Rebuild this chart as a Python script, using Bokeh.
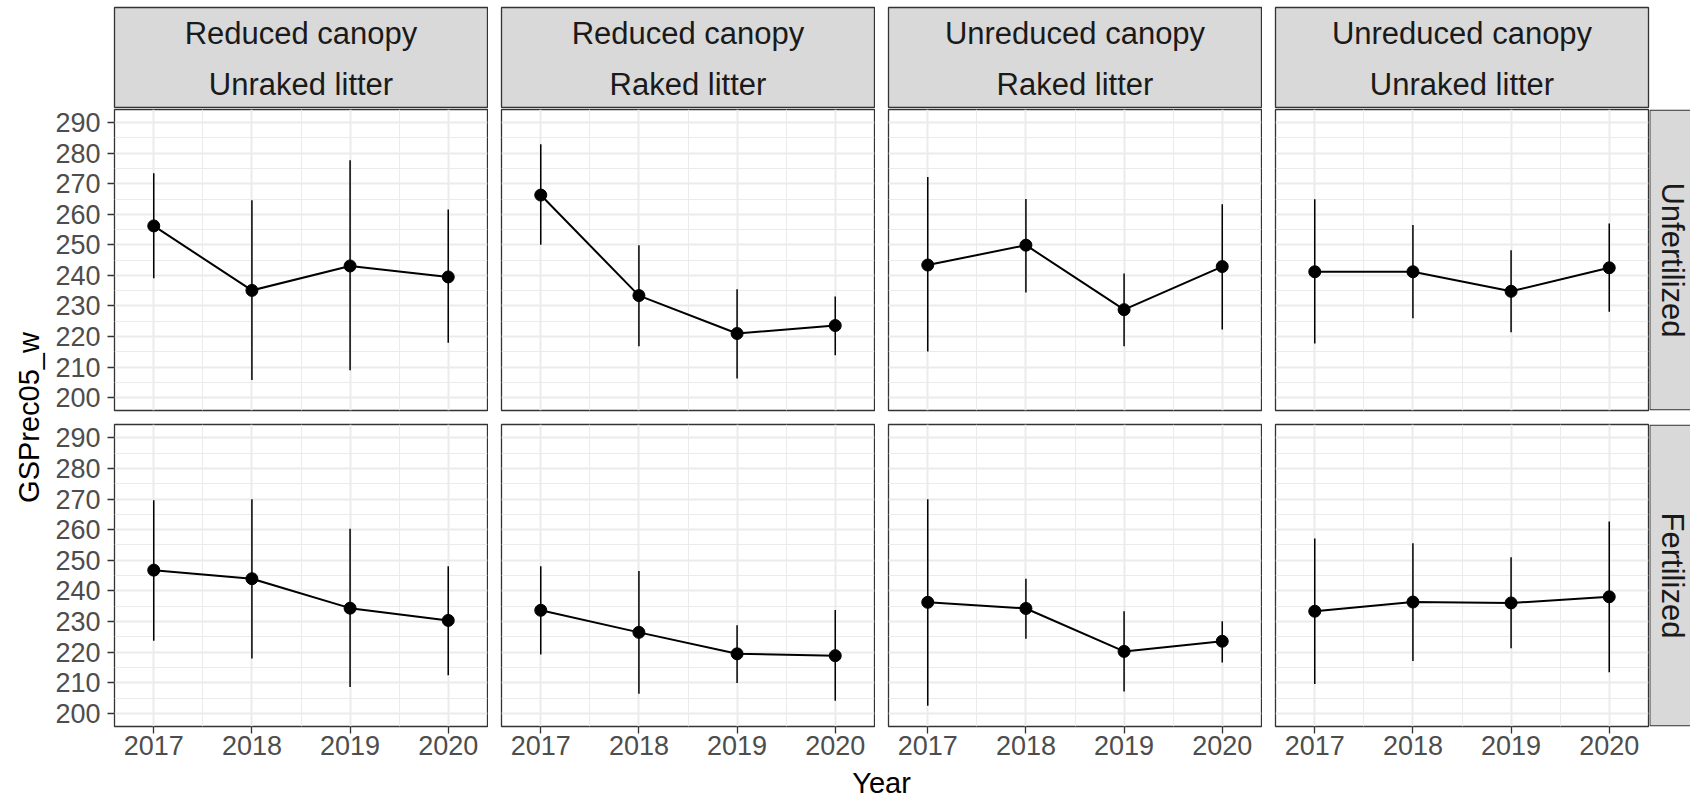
import math
from bokeh.plotting import figure
from bokeh.models import Range1d, FixedTicker, LinearAxis, Grid
from bokeh.layouts import row, column
from bokeh.embed import file_html
from bokeh.resources import INLINE
from bokeh.core.properties import value

# ---------------- data ----------------
years = [2017, 2018, 2019, 2020]
canopy_labels = ["Reduced canopy", "Reduced canopy", "Unreduced canopy", "Unreduced canopy"]
litter_labels = ["Unraked litter", "Raked litter", "Raked litter", "Unraked litter"]
fert_labels = ["Unfertilized", "Fertilized"]
y_ticks = [200, 210, 220, 230, 240, 250, 260, 270, 280, 290]
y_minor = [205, 215, 225, 235, 245, 255, 265, 275, 285]
x_minor = [2017.5, 2018.5, 2019.5]
x_title = "Year"
y_title = "GSPrec05_w"

# Unfertilized row (columns in strip order)
unfert_mean = [[256.2, 235.1, 243.1, 239.5],
               [266.3, 233.4, 221.0, 223.6],
               [243.4, 249.9, 228.8, 242.9],
               [241.2, 241.2, 234.8, 242.5]]
unfert_lo = [[239.1, 205.8, 209.0, 218.0],
             [250.0, 216.8, 206.3, 213.9],
             [215.1, 234.4, 216.8, 222.3],
             [217.7, 226.0, 221.4, 228.1]]
unfert_hi = [[273.4, 264.6, 277.7, 261.6],
             [282.9, 249.9, 235.5, 233.1],
             [272.2, 265.0, 240.6, 263.3],
             [264.9, 256.5, 248.2, 257.0]]

# Fertilized row
fert_mean = [[246.8, 244.0, 234.4, 230.4],
             [233.7, 226.5, 219.5, 218.9],
             [236.3, 234.3, 220.3, 223.6],
             [233.4, 236.4, 236.1, 238.1]]
fert_lo = [[223.8, 218.0, 208.7, 212.5],
           [219.3, 206.5, 210.0, 204.2],
           [202.6, 224.4, 207.2, 216.7],
           [209.7, 217.2, 221.3, 213.5]]
fert_hi = [[269.6, 269.9, 260.3, 248.1],
           [248.1, 246.5, 228.8, 233.8],
           [269.9, 244.0, 233.4, 230.1],
           [257.1, 255.6, 251.0, 262.7]]

row_means = [unfert_mean, fert_mean]
row_lo = [unfert_lo, fert_lo]
row_hi = [unfert_hi, fert_hi]

# ---------------- layout constants ----------------
FONT = "Liberation Sans"
PW = 373          # panel frame width
GAP = 13          # left border of columns 2-4
LEFT = 66         # left border of first column (tick labels)
YT_W = 48         # y-title column width
RS_W = 41         # right strip width
STRIP_TOP = 7
STRIP_H = 108
TOP_FRAME = 301
TOP_TOP = 1
TOP_BOTTOM = 6
BOT_FRAME = 302
BOT_TOP = 8
BOT_BOTTOM = 40
XT_H = 32
TOTAL_H = STRIP_H + (TOP_TOP + TOP_FRAME + TOP_BOTTOM) + (BOT_TOP + BOT_FRAME + BOT_BOTTOM) + XT_H
MAIN_W = (LEFT + PW + 1) + 3 * (GAP + PW + 1) + RS_W

BORDER = "#333333"
GRID = "#EBEBEB"
STRIP_FILL = "#D9D9D9"


def base_fig(width, height, xr, yr, left, right, top, bottom):
    p = figure(width=width, height=height, x_range=xr, y_range=yr,
               x_axis_location=None, y_axis_location=None, title_location=None,
               toolbar_location=None, output_backend="svg",
               min_border_left=left, min_border_right=right,
               min_border_top=top, min_border_bottom=bottom)
    p.center = [m for m in p.center if not isinstance(m, Grid)]
    p.border_fill_color = "white"
    p.background_fill_color = "white"
    p.outline_line_color = None
    return p


def row_dims(r):
    if r == 0:
        return TOP_TOP, TOP_BOTTOM, TOP_FRAME
    return BOT_TOP, BOT_BOTTOM, BOT_FRAME


def panel(r, c):
    left = LEFT if c == 0 else GAP
    top, bottom, fh = row_dims(r)
    p = base_fig(left + PW + 1, top + fh + bottom,
                 Range1d(2016.6, 2020.4), Range1d(195.8, 294.3),
                 left, 1, top, bottom)
    p.outline_line_color = BORDER
    p.outline_line_width = 1.3
    gx = Grid(dimension=0, ticker=FixedTicker(ticks=years, minor_ticks=x_minor),
              grid_line_color=GRID, grid_line_width=2,
              minor_grid_line_color=GRID, minor_grid_line_width=1)
    gy = Grid(dimension=1, ticker=FixedTicker(ticks=y_ticks, minor_ticks=y_minor),
              grid_line_color=GRID, grid_line_width=2,
              minor_grid_line_color=GRID, minor_grid_line_width=1)
    p.add_layout(gx)
    p.add_layout(gy)
    axes = []
    if c == 0:
        ay = LinearAxis(ticker=FixedTicker(ticks=y_ticks))
        ay.major_label_standoff = 7
        p.add_layout(ay, "left")
        axes.append(ay)
    if r == 1:
        ax = LinearAxis(ticker=FixedTicker(ticks=years))
        ax.major_label_standoff = 2
        p.add_layout(ax, "below")
        axes.append(ax)
    for a in axes:
        a.axis_line_color = None
        a.major_tick_line_color = BORDER
        a.major_tick_line_width = 1.3
        a.major_tick_out = 7
        a.major_tick_in = 0
        a.minor_tick_line_color = None
        a.major_label_text_font = FONT
        a.major_label_text_font_size = "27px"
        a.major_label_text_color = "#4D4D4D"

    mean = row_means[r][c]
    lo = row_lo[r][c]
    hi = row_hi[r][c]
    p.segment(x0=years, y0=lo, x1=years, y1=hi, line_color="black", line_width=1.5)
    p.line(years, mean, line_color="black", line_width=2)
    p.scatter(years, mean, size=12, fill_color="black", line_color="black")
    return p


def strip(c):
    left = LEFT if c == 0 else GAP
    right = 1 + (RS_W if c == 3 else 0)
    fh = STRIP_H - STRIP_TOP
    s = base_fig(left + PW + right, STRIP_H, Range1d(0, 1), Range1d(0, fh),
                 left, right, STRIP_TOP, 0)
    s.background_fill_color = STRIP_FILL
    s.outline_line_color = BORDER
    s.outline_line_width = 1.3
    s.text(x=[0.5, 0.5], y=[STRIP_H - 33.3, STRIP_H - 84.0],
           text=[canopy_labels[c], litter_labels[c]],
           text_align="center", text_baseline="middle",
           text_font=value(FONT), text_font_size="31px", text_color="#1A1A1A")
    return s


def right_strip(r):
    top, bottom, fh = row_dims(r)
    s = base_fig(RS_W, top + fh + bottom, Range1d(0, RS_W), Range1d(0, 1),
                 0, 0, top, bottom)
    s.quad(left=[0.3], right=[RS_W + 20], bottom=[0.002], top=[0.998],
           fill_color=STRIP_FILL, line_color=BORDER, line_width=1.3)
    s.text(x=[22.7], y=[0.5], text=[fert_labels[r]], angle=-math.pi / 2,
           text_align="center", text_baseline="middle",
           text_font=value(FONT), text_font_size="31px", text_color="#1A1A1A")
    return s


strip_row = row(*[strip(c) for c in range(4)])
top_row = row(*([panel(0, c) for c in range(4)] + [right_strip(0)]))
bot_row = row(*([panel(1, c) for c in range(4)] + [right_strip(1)]))

# x title
xt = base_fig(MAIN_W, XT_H, Range1d(0, MAIN_W), Range1d(0, XT_H), 0, 0, 0, 0)
x_center = (LEFT + (LEFT + PW + 1) + 3 * (GAP + PW + 1) - 1) / 2.0
xt.text(x=[x_center], y=[XT_H - 16.0], text=[x_title], text_align="center",
        text_baseline="middle", text_font=value(FONT),
        text_font_size="29px", text_color="black")

# y title
yt = base_fig(YT_W, TOTAL_H, Range1d(0, YT_W), Range1d(0, TOTAL_H), 0, 0, 0, 0)
yt.text(x=[28.5], y=[TOTAL_H - 417], text=[y_title], angle=math.pi / 2,
        text_align="center", text_baseline="middle", text_font=value(FONT),
        text_font_size="29px", text_color="black")

main = column(strip_row, top_row, bot_row, xt)
layout = row(yt, main)

open("out.html", "w").write(file_html(layout, INLINE))
